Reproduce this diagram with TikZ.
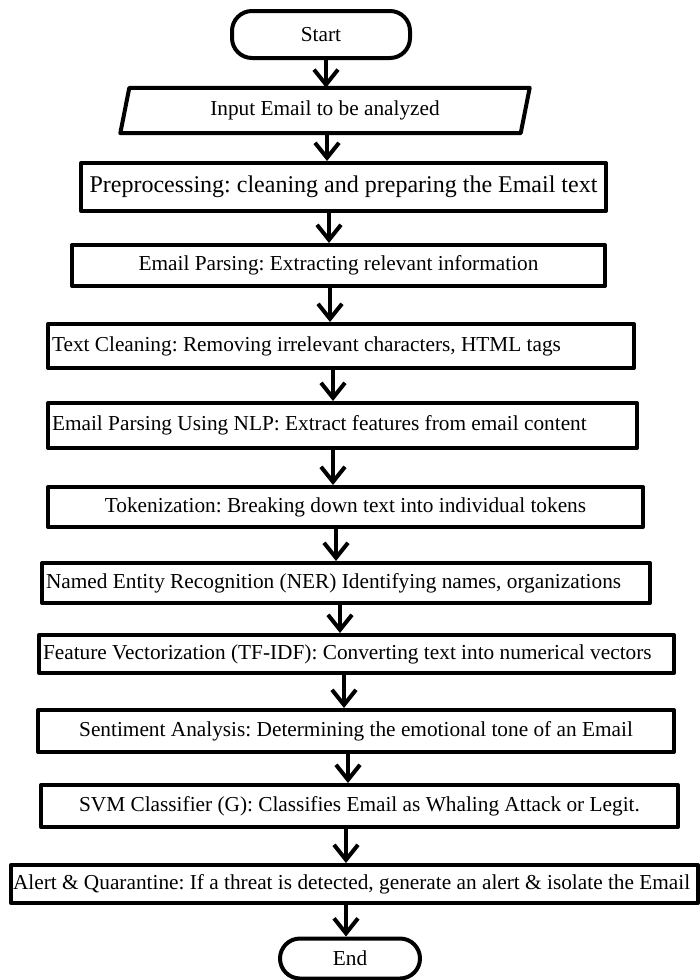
\documentclass[tikz,border=0pt]{standalone}
\usepackage{fontspec}
\setmainfont{Liberation Serif}
\usetikzlibrary{arrows.meta}
\begin{document}
\begin{tikzpicture}[x=1pt,y=-1pt,
  box/.style={draw, line width=4pt, line join=round, rectangle, inner sep=0pt, font=\fontsize{21.3}{24}\selectfont\frenchspacing},
  lbox/.style={box, inner xsep=4pt},
  term/.style={box, rounded corners=20pt},
  arr/.style={line width=4pt, -{Straight Barb[length=15pt,width=24pt]}},
]
\useasboundingbox (0,0) rectangle (700,980);

\node[term, minimum width=178pt, minimum height=47pt] (start) at (321,34.5) {Start};
\node[inner sep=0pt, minimum width=400pt, minimum height=45pt, font=\fontsize{21.3}{24}\selectfont] (inp) at (325,110.5) {Input Email to be analyzed};
\draw[line width=4pt, line join=round] ([xshift=4.5pt]inp.north west) -- ([xshift=4.5pt]inp.north east) -- ([xshift=-4.5pt]inp.south east) -- ([xshift=-4.5pt]inp.south west) -- cycle;
\node[box, minimum width=525pt, minimum height=48pt, font=\fontsize{24}{28}\selectfont\frenchspacing] (pre) at (343.5,187) {Preprocessing: cleaning and preparing the Email text};
\node[box, minimum width=533pt, minimum height=41pt] (ep) at (338.5,265.5) {Email Parsing: Extracting relevant information};
\node[lbox, minimum width=586pt, minimum height=44pt] (tc) at (341,346) {\makebox[578pt][l]{Text Cleaning: Removing irrelevant characters, HTML tags}};
\node[lbox, minimum width=589pt, minimum height=45pt] (nlp) at (342.5,425.5) {\makebox[581pt][l]{Email Parsing Using NLP: Extract features from email content}};
\node[box, minimum width=595pt, minimum height=40pt] (tok) at (345.5,507) {Tokenization: Breaking down text into individual tokens};
\node[lbox, minimum width=608pt, minimum height=40pt] (ner) at (346,583) {\makebox[600pt][l]{Named Entity Recognition (NER) Identifying names, organizations}};
\node[lbox, minimum width=635pt, minimum height=38pt] (feat) at (356.5,654) {\makebox[627pt][l]{Feature Vectorization (TF-IDF): Converting text into numerical vectors}};
\node[box, minimum width=636pt, minimum height=42pt] (sent) at (356,731) {Sentiment Analysis: Determining the emotional tone of an Email};
\node[box, minimum width=637pt, minimum height=42pt] (svm) at (359.5,806) {SVM Classifier (G): Classifies Email as Whaling Attack or Legit.};
\node[lbox, minimum width=687pt, minimum height=38pt, inner xsep=2pt] (alert) at (354.5,884) {\makebox[683pt][l]{Alert \& Quarantine: If a threat is detected, generate an alert \& isolate the Email}};
\node[term, minimum width=140pt, minimum height=40pt] (end) at (350,958.5) {End};

\draw[arr] (start.south -| 326,0) -- (inp.north -| 326,0);
\draw[arr] (inp.south -| 327,0) -- (pre.north -| 327,0);
\draw[arr] (pre.south -| 329,0) -- (ep.north -| 329,0);
\draw[arr] (ep.south -| 330,0) -- (tc.north -| 330,0);
\draw[arr] (tc.south -| 333,0) -- (nlp.north -| 333,0);
\draw[arr] (nlp.south -| 333,0) -- (tok.north -| 333,0);
\draw[arr] (tok.south -| 336,0) -- (ner.north -| 336,0);
\draw[arr] (ner.south -| 340,0) -- (feat.north -| 340,0);
\draw[arr] (feat.south -| 344,0) -- (sent.north -| 344,0);
\draw[arr] (sent.south -| 348,0) -- (svm.north -| 348,0);
\draw[arr] (svm.south -| 346,0) -- (alert.north -| 346,0);
\draw[arr] (alert.south -| 346,0) -- (end.north -| 346,0);
\end{tikzpicture}
\end{document}
